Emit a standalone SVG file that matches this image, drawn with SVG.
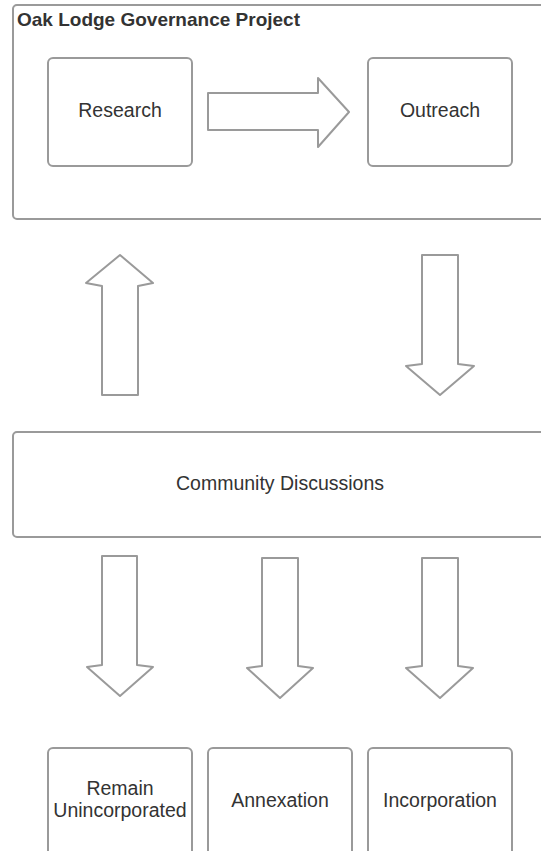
<svg xmlns="http://www.w3.org/2000/svg" width="541" height="851" viewBox="0 0 541 851">
  <style>
    .box { fill: #ffffff; stroke: #9a9a9a; stroke-width: 2; }
    .arrow { fill: #ffffff; stroke: #9a9a9a; stroke-width: 2; stroke-linejoin: round; }
    .lbl { font-family: "Liberation Sans", Arial, sans-serif; font-size: 19.5px; fill: #333333; text-anchor: middle; }
    .title { font-family: "Liberation Sans", Arial, sans-serif; font-size: 19px; font-weight: bold; fill: #333333; }
  </style>
  <rect width="541" height="851" fill="#ffffff"/>

  <g id="project">
    <rect class="box" x="13" y="5" width="536" height="214" rx="4"/>
    <text class="title" x="17" y="26">Oak Lodge Governance Project</text>
  </g>

  <g id="research">
    <rect class="box" x="48" y="58" width="144" height="108" rx="5"/>
    <text class="lbl" x="120" y="117">Research</text>
  </g>

  <g id="outreach">
    <rect class="box" x="368" y="58" width="144" height="108" rx="5"/>
    <text class="lbl" x="440" y="117">Outreach</text>
  </g>

  <g id="community">
    <rect class="box" x="13" y="432" width="536" height="105" rx="4"/>
    <text class="lbl" x="280" y="490">Community Discussions</text>
  </g>

  <g id="remain">
    <rect class="box" x="48" y="748" width="144" height="120" rx="5"/>
    <text class="lbl" x="120" y="795">Remain</text>
    <text class="lbl" x="120" y="817">Unincorporated</text>
  </g>

  <g id="annexation">
    <rect class="box" x="208" y="748" width="144" height="120" rx="5"/>
    <text class="lbl" x="280" y="807">Annexation</text>
  </g>

  <g id="incorporation">
    <rect class="box" x="368" y="748" width="144" height="120" rx="5"/>
    <text class="lbl" x="440" y="807">Incorporation</text>
  </g>

  <g id="connectors">
    <path class="arrow" d="M208,93 L318,93 L318,78 L349,112 L318,147 L318,130 L208,130 Z"/>
    <path class="arrow" d="M102,395 L102,286 L86,283 L120,255 L153,283 L138,286 L138,395 Z"/>
    <path class="arrow" d="M422,255 L458,255 L458,364 L474,366 L440,395 L406,366 L422,364 Z"/>
    <path class="arrow" d="M102,556 L137,556 L137,665 L153,667 L120,696 L87,667 L102,665 Z"/>
    <path class="arrow" d="M262,558 L298,558 L298,666 L313,668 L280,698 L247,668 L262,666 Z"/>
    <path class="arrow" d="M422,558 L458,558 L458,666 L473,668 L440,698 L406,668 L422,666 Z"/>
  </g>
</svg>
